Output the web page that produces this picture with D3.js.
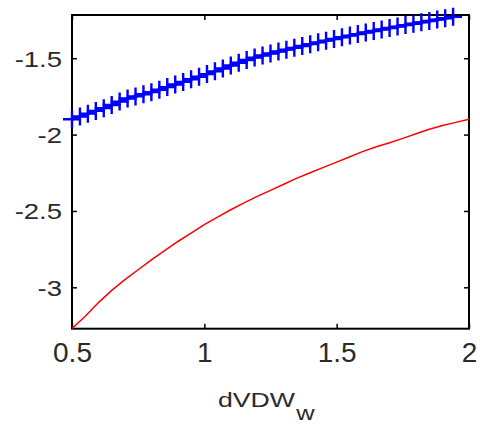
<!DOCTYPE html>
<html><head><meta charset="utf-8">
<script src="https://cdn.jsdelivr.net/npm/d3@7"></script>
<style>body{margin:0;background:#fff}</style>
</head><body><svg id="c" width="480" height="424"></svg>
<script>
const xTicks = [0.5, 1, 1.5, 2];
const xTickLabels = ["0.5", "1", "1.5", "2"];
const yTicks = [-3, -2.5, -2, -1.5];
const yTickLabels = ["-3", "-2.5", "-2", "-1.5"];
const xLabelMain = "dVDW";
const xLabelSub = "w";

const redX = [0.50,0.55,0.60,0.65,0.70,0.75,0.80,0.85,0.90,0.95,1.00,1.05,1.10,1.15,1.20,1.25,1.30,1.35,1.40,1.45,1.50,1.55,1.60,1.65,1.70,1.75,1.80,1.85,1.90,1.95,2.00];
const redY = [-3.27,-3.19,-3.10,-3.02,-2.95,-2.885,-2.82,-2.76,-2.70,-2.645,-2.59,-2.54,-2.492,-2.447,-2.405,-2.365,-2.325,-2.285,-2.25,-2.215,-2.18,-2.145,-2.11,-2.08,-2.053,-2.025,-1.995,-1.965,-1.94,-1.92,-1.90];

const blueX = [0.50,0.53,0.56,0.59,0.62,0.65,0.68,0.71,0.74,0.77,0.80,0.83,0.86,0.89,0.92,0.95,0.98,1.01,1.04,1.07,1.10,1.13,1.16,1.19,1.22,1.25,1.28,1.31,1.34,1.37,1.40,1.43,1.46,1.49,1.52,1.55,1.58,1.61,1.64,1.67,1.70,1.73,1.76,1.79,1.82,1.85,1.88,1.91,1.94];
const blueY = [-1.900,-1.882,-1.863,-1.845,-1.827,-1.806,-1.784,-1.764,-1.750,-1.736,-1.722,-1.706,-1.689,-1.672,-1.655,-1.638,-1.621,-1.604,-1.586,-1.567,-1.548,-1.530,-1.512,-1.496,-1.482,-1.469,-1.456,-1.444,-1.432,-1.420,-1.408,-1.396,-1.385,-1.374,-1.363,-1.352,-1.342,-1.332,-1.322,-1.312,-1.302,-1.293,-1.283,-1.274,-1.265,-1.256,-1.247,-1.238,-1.229];

const FONT = "'Liberation Sans', Arial, Helvetica, sans-serif";
const svg = d3.select("#c");
const L = 72, R = 469, T = 15, B = 328.7;
const x = d3.scaleLinear().domain([0.5, 2]).range([L, R]);
const y = d3.scaleLinear().domain([-3.271, -1.217]).range([B, T]);

// axes with inward ticks
const gx = svg.append("g").attr("transform", `translate(0,${B})`)
  .call(d3.axisBottom(x).tickValues(xTicks).tickSize(-5).tickSizeOuter(0).tickPadding(0)
    .tickFormat((d, i) => xTickLabels[i]));
gx.select(".domain").remove();
gx.selectAll("line").attr("stroke", "#000").attr("stroke-width", 1.5);
gx.selectAll("text").attr("font-family", FONT).attr("font-size", 28).attr("fill", "#2a2a2a")
  .attr("y", 33).attr("dy", 0);

const gxt = svg.append("g").attr("transform", `translate(0,${T})`)
  .call(d3.axisTop(x).tickValues(xTicks).tickSize(-5).tickSizeOuter(0).tickFormat(""));
gxt.select(".domain").remove();
gxt.selectAll("line").attr("stroke", "#000").attr("stroke-width", 1.5);

const gy = svg.append("g").attr("transform", `translate(${L},0)`)
  .call(d3.axisLeft(y).tickValues(yTicks).tickSize(-5).tickSizeOuter(0).tickPadding(10)
    .tickFormat((d, i) => yTickLabels[i]));
gy.select(".domain").remove();
gy.selectAll("line").attr("stroke", "#000").attr("stroke-width", 1.5);
gy.selectAll("text").attr("font-family", FONT).attr("font-size", 22).attr("fill", "#2a2a2a")
  .attr("x", -10 / 1.25).attr("dy", "0.36em").attr("transform", "scale(1.25,1)");

const gyr = svg.append("g").attr("transform", `translate(${R},0)`)
  .call(d3.axisRight(y).tickValues(yTicks).tickSize(-5).tickSizeOuter(0).tickFormat(""));
gyr.select(".domain").remove();
gyr.selectAll("line").attr("stroke", "#000").attr("stroke-width", 1.5);

// frame
svg.append("rect").attr("x", L).attr("y", T).attr("width", R - L).attr("height", B - T)
  .attr("fill", "none").attr("stroke", "#000").attr("stroke-width", 2);

// red line
const redData = redX.map((v, i) => [v, redY[i]]);
svg.append("path").datum(redData)
  .attr("d", d3.line().x(d => x(d[0])).y(d => y(d[1])))
  .attr("fill", "none").attr("stroke", "#ff0000").attr("stroke-width", 1.5);

// blue line with + markers
const blueData = blueX.map((v, i) => [v, blueY[i]]);
svg.append("path").datum(blueData)
  .attr("d", d3.line().x(d => x(d[0])).y(d => y(d[1])))
  .attr("fill", "none").attr("stroke", "#0000ff").attr("stroke-width", 3);
const m = 9;
svg.append("g").selectAll("path").data(blueData).join("path")
  .attr("d", d => {
    const px = x(d[0]), py = y(d[1]);
    return `M${px - m},${py}H${px + m}M${px},${py - m}V${py + m}`;
  })
  .attr("fill", "none").attr("stroke", "#0000ff").attr("stroke-width", 2.4);

// x label with subscript
const xl = svg.append("text").attr("font-family", FONT).attr("fill", "#2a2a2a")
  .attr("transform", `translate(218,406.5) scale(1.27,1)`);
xl.append("tspan").attr("font-size", 21).text(xLabelMain);
xl.append("tspan").attr("font-size", 20).attr("dx", 1).attr("dy", 13).text(xLabelSub);
</script></body></html>
